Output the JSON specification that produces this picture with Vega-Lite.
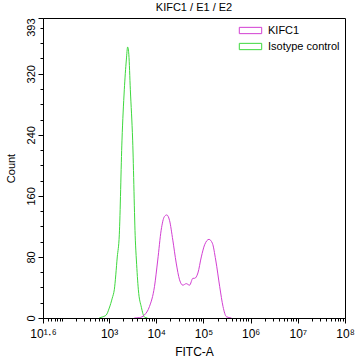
{
  "$schema": "https://vega.github.io/schema/vega-lite/v6.json",
  "autosize": "none",
  "width": 302,
  "height": 300,
  "padding": {"left": 43, "top": 18, "right": 13, "bottom": 43},
  "background": "white",
  "config": {
    "font": "Liberation Sans",
    "view": {"stroke": "black", "strokeWidth": 1},
    "axis": {"domainColor": "black", "tickColor": "black", "labelColor": "black", "titleColor": "black", "grid": false, "labelFont": "Liberation Sans", "titleFont": "Liberation Sans", "labelFontSize": 11, "titleFontSize": 11, "titleFontWeight": "normal"}
  },
  "title": {"text": "KIFC1 / E1 / E2", "fontSize": 11, "fontWeight": "normal", "anchor": "middle", "frame": "group", "offset": 5, "color": "black", "font": "Liberation Sans"},
  "data": {"values": [
    {"sample": "Isotype control", "fitc": 618, "count": 0},
    {"sample": "Isotype control", "fitc": 716, "count": 1.3},
    {"sample": "Isotype control", "fitc": 871, "count": 3.9},
    {"sample": "Isotype control", "fitc": 1009, "count": 13},
    {"sample": "Isotype control", "fitc": 1169, "count": 26},
    {"sample": "Isotype control", "fitc": 1291, "count": 37},
    {"sample": "Isotype control", "fitc": 1493, "count": 80},
    {"sample": "Isotype control", "fitc": 1648, "count": 109},
    {"sample": "Isotype control", "fitc": 1879, "count": 233},
    {"sample": "Isotype control", "fitc": 2104, "count": 299},
    {"sample": "Isotype control", "fitc": 2323, "count": 338},
    {"sample": "Isotype control", "fitc": 2477, "count": 355},
    {"sample": "Isotype control", "fitc": 2624, "count": 345},
    {"sample": "Isotype control", "fitc": 2825, "count": 299},
    {"sample": "Isotype control", "fitc": 3162, "count": 233},
    {"sample": "Isotype control", "fitc": 3606, "count": 102},
    {"sample": "Isotype control", "fitc": 3793, "count": 76},
    {"sample": "Isotype control", "fitc": 4178, "count": 37},
    {"sample": "Isotype control", "fitc": 4842, "count": 14},
    {"sample": "Isotype control", "fitc": 5610, "count": 1.3},
    {"sample": "Isotype control", "fitc": 6501, "count": 0},
    {"sample": "KIFC1", "fitc": 3436, "count": 0},
    {"sample": "KIFC1", "fitc": 4395, "count": 0.5},
    {"sample": "KIFC1", "fitc": 5610, "count": 3.9},
    {"sample": "KIFC1", "fitc": 7161, "count": 14.8},
    {"sample": "KIFC1", "fitc": 9162, "count": 41},
    {"sample": "KIFC1", "fitc": 10765, "count": 76},
    {"sample": "KIFC1", "fitc": 12706, "count": 115},
    {"sample": "KIFC1", "fitc": 14928, "count": 133},
    {"sample": "KIFC1", "fitc": 16711, "count": 135},
    {"sample": "KIFC1", "fitc": 19099, "count": 128},
    {"sample": "KIFC1", "fitc": 22439, "count": 102},
    {"sample": "KIFC1", "fitc": 26485, "count": 72},
    {"sample": "KIFC1", "fitc": 31189, "count": 50},
    {"sample": "KIFC1", "fitc": 36644, "count": 43},
    {"sample": "KIFC1", "fitc": 43251, "count": 45},
    {"sample": "KIFC1", "fitc": 50816, "count": 43},
    {"sample": "KIFC1", "fitc": 59841, "count": 52},
    {"sample": "KIFC1", "fitc": 65013, "count": 52},
    {"sample": "KIFC1", "fitc": 76384, "count": 59},
    {"sample": "KIFC1", "fitc": 90157, "count": 80},
    {"sample": "KIFC1", "fitc": 106170, "count": 96},
    {"sample": "KIFC1", "fitc": 130918, "count": 103},
    {"sample": "KIFC1", "fitc": 154525, "count": 98},
    {"sample": "KIFC1", "fitc": 181970, "count": 76},
    {"sample": "KIFC1", "fitc": 221309, "count": 41},
    {"sample": "KIFC1", "fitc": 260016, "count": 15},
    {"sample": "KIFC1", "fitc": 306902, "count": 1.7},
    {"sample": "KIFC1", "fitc": 392645, "count": 0}
  ]},
  "mark": {"type": "line", "strokeWidth": 1, "interpolate": "monotone", "clip": true},
  "encoding": {
    "x": {
      "field": "fitc", "type": "quantitative",
      "scale": {"type": "log", "domain": [39.81, 100000000], "nice": false},
      "axis": {
        "title": "FITC-A",
        "titleFontSize": 12,
        "titlePadding": 7,
        "labelPadding": 5,
        "labelFontSize": 12,
        "labelOverlap": false,
        "labelFlush": false,
        "values": [39.81, 50, 60, 70, 80, 90, 100, 200, 300, 400, 500, 600, 700, 800, 900, 1000, 2000, 3000, 4000, 5000, 6000, 7000, 8000, 9000, 10000, 20000, 30000, 40000, 50000, 60000, 70000, 80000, 90000, 100000, 200000, 300000, 400000, 500000, 600000, 700000, 800000, 900000, 1000000, 2000000, 3000000, 4000000, 5000000, 6000000, 7000000, 8000000, 9000000, 10000000, 20000000, 30000000, 40000000, 50000000, 60000000, 70000000, 80000000, 90000000, 100000000],
        "labelExpr": "datum.value < 45 ? '10¹·⁶' : ((datum.value >= 1000 && abs(log(datum.value)/LN10 - round(log(datum.value)/LN10)) < 0.001) ? ['','','','10³','10⁴','10⁵','10⁶','10⁷','10⁸'][round(log(datum.value)/LN10)] : '')",
        "tickSize": {"condition": {"test": "datum.value < 45 || (datum.value >= 1000 && abs(log(datum.value)/LN10 - round(log(datum.value)/LN10)) < 0.001)", "value": 5}, "value": 3}
      }
    },
    "y": {
      "field": "count", "type": "quantitative",
      "scale": {"domain": [0, 393], "nice": false},
      "axis": {
        "title": "Count",
        "titlePadding": 9,
        "labelAngle": -90,
        "labelAlign": {"condition": {"test": "datum.value == 393", "value": "right"}, "value": "center"},
        "labelBaseline": "bottom",
        "labelPadding": 2,
        "labelOverlap": false,
        "labelFlush": false,
        "format": "d",
        "values": [0, 20, 40, 60, 80, 100, 120, 140, 160, 180, 200, 220, 240, 260, 280, 300, 320, 340, 360, 380, 393],
        "labelExpr": "(datum.value % 80 == 0 || datum.value == 393) ? datum.label : ''",
        "tickSize": {"condition": {"test": "datum.value % 80 == 0 || datum.value == 393", "value": 5}, "value": 3}
      }
    },
    "color": {
      "field": "sample", "type": "nominal",
      "scale": {"domain": ["KIFC1", "Isotype control"], "range": ["#d23fd2", "#3ed83e"]},
      "legend": {
        "title": null,
        "orient": "top-right",
        "offset": 3,
        "symbolType": "M-1.6,-0.45H1.6V0.45H-1.6Z",
        "symbolSize": 196,
        "symbolStrokeWidth": 1,
        "symbolFillColor": "transparent",
        "labelFont": "Liberation Sans",
        "labelFontSize": 11,
        "labelColor": "black",
        "labelOffset": 10,
        "rowPadding": 3,
        "padding": 2
      }
    }
  }
}
